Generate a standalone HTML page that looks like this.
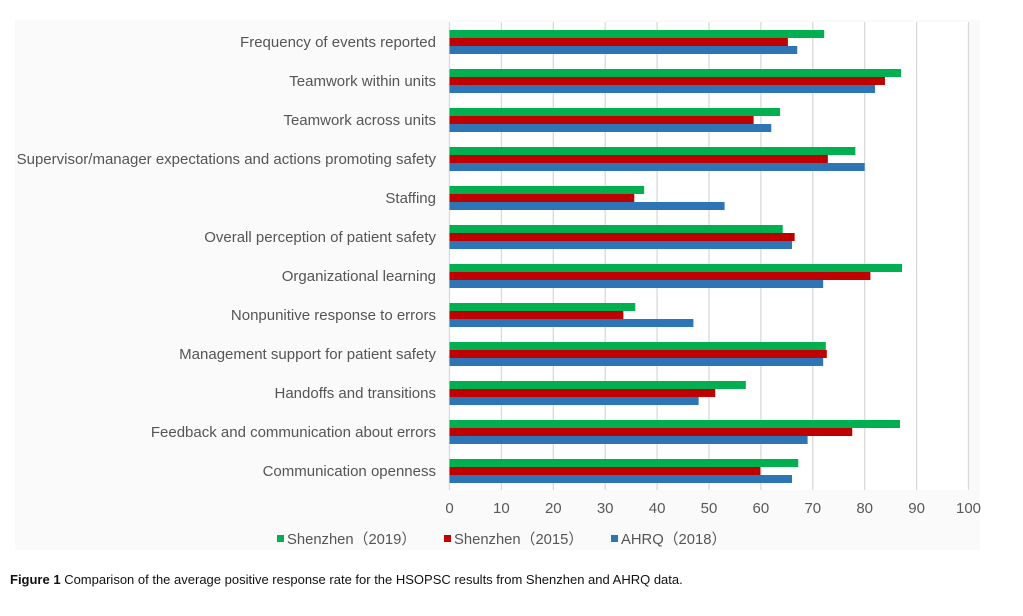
<!DOCTYPE html>
<html><head><meta charset="utf-8">
<style>
body{margin:0;background:#fff;width:1023px;height:616px;overflow:hidden;font-family:"Liberation Sans",sans-serif;}
svg{display:block}
</style></head>
<body>
<svg id="chart" width="1023" height="616" xmlns="http://www.w3.org/2000/svg">
<rect x="15" y="20" width="965" height="530" fill="#fafafa"/>
<rect x="449" y="22" width="520" height="468" fill="#fff"/>
<g id="grid"></g><g id="bars"></g><g id="labels"></g><g id="ticks"></g>
<g font-size="14.8" fill="#555">
<g><rect x="277" y="535" width="7" height="7" fill="#00b050"/><text x="287" y="544">Shenzhen（2019）</text></g>
<g><rect x="444" y="535" width="7" height="7" fill="#c00000"/><text x="454" y="544">Shenzhen（2015）</text></g>
<g><rect x="611" y="535" width="7" height="7" fill="#2e75b6"/><text x="621" y="544">AHRQ（2018）</text></g>
</g>
<text x="10" y="584" font-size="13" fill="#111"><tspan font-weight="bold">Figure 1</tspan> Comparison of the average positive response rate for the HSOPSC results from Shenzhen and AHRQ data.</text>
</svg>
<script>
const categories=["Frequency of events reported","Teamwork within units","Teamwork across units","Supervisor/manager expectations and actions promoting safety","Staffing","Overall perception of patient safety","Organizational learning","Nonpunitive response to errors","Management support for patient safety","Handoffs and transitions","Feedback and communication about errors","Communication openness"];
const shenzhen2019=[72.2,87.0,63.7,78.2,37.5,64.2,87.2,35.8,72.5,57.1,86.8,67.2];
const shenzhen2015=[65.2,83.9,58.6,72.9,35.6,66.5,81.1,33.5,72.7,51.2,77.6,59.9];
const ahrq2018=[67.0,82.0,62.0,80.0,53.0,66.0,72.0,47.0,72.0,48.0,69.0,66.0];
const tickValues=[0,10,20,30,40,50,60,70,80,90,100];
const NS="http://www.w3.org/2000/svg";
const x0=449.5,x1=968.5,topY=22.5,band=39;
const xs=v=>x0+(x1-x0)*v/100;
const ys=i=>topY+i*band;
function mk(tag,attrs,parent){const e=document.createElementNS(NS,tag);for(const k in attrs)e.setAttribute(k,attrs[k]);parent.appendChild(e);return e;}
const grid=document.getElementById('grid'),bars=document.getElementById('bars'),labels=document.getElementById('labels'),ticks=document.getElementById('ticks');
tickValues.forEach(t=>{
  const l=mk('line',{x1:xs(t),x2:xs(t),y1:22,y2:490,stroke:'#d9d9d9','stroke-width':1.3},grid);
  
  
  const tx=mk('text',{x:xs(t),y:513,'text-anchor':'middle','font-size':15,fill:'#595959'},ticks);
  tx.textContent=t;
  
  
});
const series=[[shenzhen2019,'#00b050','shenzhen-2019'],[shenzhen2015,'#c00000','shenzhen-2015'],[ahrq2018,'#2e75b6','ahrq-2018']];
categories.forEach((c,i)=>{
  const cy=ys(i)+band/2;
  const t=mk('text',{x:436,y:cy+5,'text-anchor':'end','font-size':15,fill:'#555'},labels);
  t.textContent=c;
  
  
  series.forEach((s,j)=>{
    const r=mk('rect',{x:x0,y:cy-12+j*8,width:xs(s[0][i])-x0,height:8,fill:s[1]},bars);
    
    
  });
});
</script>
</body></html>
